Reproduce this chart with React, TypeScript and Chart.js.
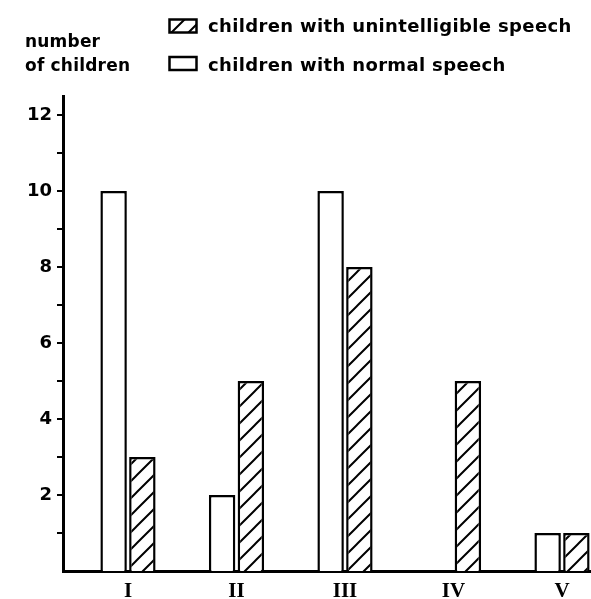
import React, { useEffect, useRef } from "react";
import { Chart, registerables } from "chart.js";

Chart.register(...registerables);

const categories = ["I", "II", "III", "IV", "V"];
const normalSpeech = [10, 2, 10, 0, 1];
const unintelligibleSpeech = [3, 5, 8, 5, 1];
const yTickValues = [1, 2, 3, 4, 5, 6, 7, 8, 9, 10, 11, 12];
const yTitleLines = ["number", "of children"];
const legendLabels = ["children with unintelligible speech", "children with normal speech"];

function makeHatch(): CanvasPattern | string {
  const s = 17;
  const c = document.createElement("canvas");
  c.width = s;
  c.height = s;
  const g = c.getContext("2d");
  if (!g) return "#fff";
  g.fillStyle = "#fff";
  g.fillRect(0, 0, s, s);
  g.strokeStyle = "#000";
  g.lineWidth = 2;
  g.beginPath();
  g.moveTo(0, s);
  g.lineTo(s, 0);
  g.moveTo(-2, 2);
  g.lineTo(2, -2);
  g.moveTo(s - 2, s + 2);
  g.lineTo(s + 2, s - 2);
  g.stroke();
  const p = g.createPattern(c, "repeat");
  return p || "#fff";
}

export default function App() {
  const ref = useRef<HTMLCanvasElement>(null);

  useEffect(() => {
    if (!ref.current) return;
    const hatch = makeHatch();

    const overlay = {
      id: "overlay",
      afterDraw(chart: any) {
        const ctx = chart.ctx as CanvasRenderingContext2D;
        ctx.save();
        ctx.fillStyle = "#000";
        ctx.textBaseline = "alphabetic";
        ctx.textAlign = "left";
        ctx.font = "bold 17px 'DejaVu Sans'";
        (ctx as any).letterSpacing = "0.2px";
        ctx.fillText(yTitleLines[0], 25, 47);
        ctx.fillText(yTitleLines[1], 25, 71);
        ctx.font = "bold 18px 'DejaVu Sans'";
        (ctx as any).letterSpacing = "0.35px";
        ctx.fillText(legendLabels[0], 208, 32);
        ctx.fillText(legendLabels[1], 208, 71);
        (ctx as any).letterSpacing = "0px";
        ctx.lineWidth = 2.5;
        ctx.strokeStyle = "#000";
        ctx.fillStyle = hatch as any;
        ctx.fillRect(169.5, 19.5, 27, 13);
        ctx.strokeRect(169.5, 19.5, 27, 13);
        ctx.fillStyle = "#fff";
        ctx.fillRect(169.5, 57, 27, 13);
        ctx.strokeRect(169.5, 57, 27, 13);
        ctx.restore();
      },
    };

    const chart = new Chart(ref.current, {
      type: "bar",
      data: {
        datasets: [
          {
            label: legendLabels[1],
            data: normalSpeech.map((v, i) => ({ x: i + 1, y: v })),
            backgroundColor: "#fff",
            borderColor: "#000",
            borderWidth: (c: any) => (c.raw && c.raw.y === 0 ? 0 : 2.5),
          },
          {
            label: legendLabels[0],
            data: unintelligibleSpeech.map((v, i) => ({ x: i + 1, y: v })),
            backgroundColor: hatch as any,
            borderColor: "#000",
            borderWidth: (c: any) => (c.raw && c.raw.y === 0 ? 0 : 2.5),
          },
        ],
      },
      options: {
        responsive: false,
        animation: false,
        categoryPercentage: 0.53,
        barPercentage: 0.92,
        layout: { padding: { top: 96, right: 1, left: 0, bottom: 0 } },
        plugins: { legend: { display: false }, tooltip: { enabled: false } },
        scales: {
          x: {
            type: "linear",
            offset: false,
            min: 0.401,
            max: 5.258,
            z: 1,
            afterBuildTicks: (s: any) => {
              s.ticks = categories.map((_, i) => ({ value: i + 1 }));
            },
            afterFit: (s: any) => {
              s.height = 28;
            },
            grid: { display: false, drawTicks: false },
            border: { display: true, color: "#000", width: 3 },
            ticks: {
              padding: 8,
              color: "#000",
              autoSkip: false,
              maxRotation: 0,
              font: { family: "'Liberation Serif'", size: 21, weight: "bold" },
              callback: (v: any) => categories[Math.round(Number(v)) - 1] ?? "",
            },
          },
          y: {
            min: 0,
            max: 12.5,
            z: 1,
            afterBuildTicks: (s: any) => {
              s.ticks = yTickValues.map((v) => ({ value: v }));
            },
            afterFit: (s: any) => {
              s.width = 63;
            },
            grid: {
              display: true,
              drawOnChartArea: false,
              drawTicks: true,
              tickLength: 6,
              lineWidth: 2,
              color: "#000",
            },
            border: { display: true, color: "#000", width: 3 },
            ticks: {
              padding: 5,
              color: "#000",
              autoSkip: false,
              font: { family: "'DejaVu Sans'", size: 18, weight: "bold" },
              callback: (v: any) => (Number(v) % 2 === 0 ? String(v) : ""),
            },
          },
        },
      },
      plugins: [overlay],
    } as any);

    return () => chart.destroy();
  }, []);

  return (
    <div style={{ position: "fixed", left: 0, top: 0, width: 591, height: 599, background: "#fff" }}>
      <canvas ref={ref} width={591} height={599} style={{ display: "block", width: 591, height: 599 }} />
    </div>
  );
}
